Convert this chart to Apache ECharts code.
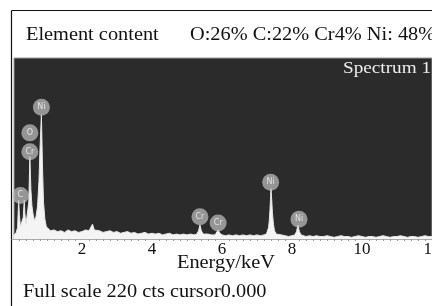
<!DOCTYPE html>
<html><head><meta charset="utf-8">
<script src="https://cdn.jsdelivr.net/npm/echarts@6/dist/echarts.min.js"></script>
<style>html,body{margin:0;padding:0;background:#fff}#c{width:432px;height:306px}</style>
</head><body><div id="c"></div>
<script>
// Spectrum (energy in keV, counts)
const energies = [0.05,0.12,0.16,0.19,0.21,0.24,0.28,0.32,0.35,0.37,0.40,0.44,0.48,0.51,0.54,0.57,0.61,0.65,0.69,0.73,0.77,0.80,0.84,0.87,0.90,0.94,0.98,
1.0,1.1,1.2,1.3,1.4,1.5,1.6,1.7,1.8,1.9,2.0,2.1,2.2,2.3,2.35,2.4,2.5,2.6,2.7,2.8,2.9,3.0,3.1,3.2,3.3,3.4,3.5,3.6,3.7,3.8,3.9,4.0,4.1,4.2,4.3,4.4,4.5,4.6,4.7,4.8,4.9,5.0,5.1,5.2,
5.28,5.33,5.37,5.41,5.46,5.5,5.6,5.7,5.8,5.84,5.89,5.94,6.0,6.1,6.2,6.3,6.4,6.5,6.6,6.7,6.8,6.9,7.0,7.1,7.2,
7.27,7.30,7.33,7.35,7.37,7.39,7.40,7.42,7.44,7.47,7.50,7.55,7.6,7.7,7.8,7.9,8.0,8.08,8.13,8.17,8.21,8.26,8.3,8.4,8.5,8.6,8.7,8.8,8.9,
9.0,9.1,9.2,9.3,9.4,9.5,9.6,9.7,9.8,9.9,10.0,10.1,10.2,10.3,10.4,10.5,10.6,10.7,10.8,10.9,11.0,11.1,11.2,11.3,11.4,11.5,11.6,11.7,11.8,11.9,12.0,12.1,12.2,12.3];
const counts = [4,8,14,47,30,15,14,26,47,30,18,20,45,100,60,40,28,22,28,40,70,110,151,90,45,24,15,
13,10,11,9,10,8,11,9,10,8,9,11,10,18,11,9,10,8,9,10,8,9,7,8,9,7,8,6,7,8,6,7,6,7,5,6,7,5,6,5,6,5,6,5,
6,10,17,10,6,5,6,5,5,7,11,7,5,4,5,4,5,4,5,4,5,4,5,4,5,
6,8,14,22,35,52,61,48,32,18,10,6,4,5,4,3,4,5,9,17,9,5,4,3,4,3,4,3,3,
4,3,2,3,4,3,3,2,3,4,3,2,3,3,2,3,4,3,2,3,3,4,3,2,3,3,2,3,4,3,3,3,2,3];
// Peak marker labels (element, energy, count at circle centre)
const markNames = ['Ni','O','Cr','C','Cr','Cr','Ni','Ni'];
const markEnergy = [0.84,0.51,0.51,0.24,5.37,5.89,7.39,8.20];
const markCount = [160,129,106,53,27,19.5,69,24];
const xTicks = [2,4,6,8,10,12];

const chart = echarts.init(document.getElementById('c'));
const serif = '"Liberation Serif","DejaVu Serif",serif';
function txt(t,x,y,size,sx,fill,z){
  return {type:'text',x:x,y:y,scaleX:sx,z:z||1,
    style:{text:t,x:0,y:0,fill:fill||'#111',font:size+'px '+serif,verticalAlign:'middle',align:'left'}};
}
chart.setOption({
  animation:false,
  backgroundColor:'#fff',
  grid:{left:12,right:0,top:58,bottom:67,containLabel:false,outerBoundsMode:'none'},
  xAxis:{type:'value',min:0,max:12,interval:2,
    axisLine:{show:true,lineStyle:{color:'#aaa',width:1}},
    axisTick:{show:false},
    minorTick:{show:true,splitNumber:10,length:2,lineStyle:{color:'#999'}},
    splitLine:{show:false},
    axisLabel:{color:'#111',fontFamily:serif,fontSize:17,margin:2,showMinLabel:false,hideOverlap:false,
      formatter:v=>xTicks.includes(v)?String(v):''}},
  yAxis:{type:'value',min:0,max:220,show:false},
  graphic:[
    {type:'rect',z:-10,shape:{x:14,y:58,width:418,height:181},style:{fill:'#2b2b2b',stroke:'#999',lineWidth:1}},
    {type:'line',shape:{x1:11.5,y1:10.5,x2:432,y2:10.5},style:{stroke:'#111',lineWidth:1}},
    {type:'line',shape:{x1:11.5,y1:10.5,x2:11.5,y2:306},style:{stroke:'#111',lineWidth:1.2}},
    txt('Element content',26,35,18,1.13),
    txt('O:26% C:22% Cr4% Ni: 48%',190,35,18,1.13),
    txt('Spectrum 1',343,69,16,1.2,'#eee',10),
    txt('Energy/keV',177,263,18,1.13),
    txt('Full scale 220 cts cursor0.000',23,292,18,1.13)
  ],
  series:[
    {type:'line',data:energies.map((e,i)=>[e,counts[i]]),showSymbol:false,
     lineStyle:{color:'#e8e8e8',width:1},areaStyle:{color:'#f4f4f4',opacity:1},z:2},
    {type:'scatter',data:markEnergy.map((e,i)=>[e,markCount[i],markNames[i]]),
     symbol:'circle',symbolSize:17,itemStyle:{color:'rgba(195,195,195,0.88)'},z:5,
     label:{show:true,position:'inside',formatter:p=>p.data[2],color:'#f6f6f6',fontSize:8,fontFamily:'"DejaVu Sans",sans-serif'}}
  ]
});
</script></body></html>
